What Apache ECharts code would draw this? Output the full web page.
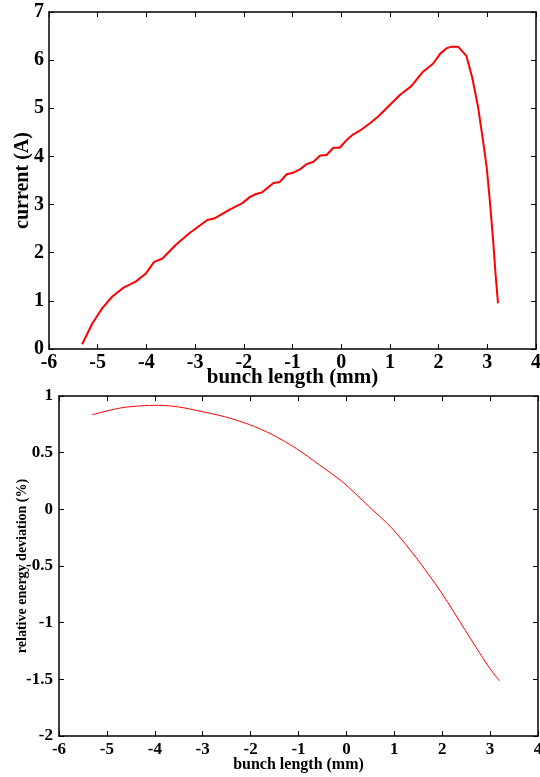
<!DOCTYPE html>
<html>
<head>
<meta charset="utf-8">
<script src="https://cdn.jsdelivr.net/npm/echarts@6/dist/echarts.min.js"></script>
<style>
  html, body { margin: 0; padding: 0; background: #fff; }
  #chart { width: 540px; height: 777px; }
</style>
</head>
<body>
<div id="chart"></div>
<script>
// top panel: current vs bunch length
const bunchTop = [-5.32, -5.11, -4.905, -4.70, -4.46, -4.22, -4.01, -3.84, -3.67, -3.40, -3.125, -2.75, -2.61, -2.30, -2.03, -1.87, -1.75, -1.63, -1.39, -1.26, -1.12, -0.99, -0.85, -0.71, -0.57, -0.43, -0.30, -0.16, -0.03, 0.11, 0.25, 0.39, 0.59, 0.76, 0.93, 1.21, 1.44, 1.68, 1.89, 2.03, 2.17, 2.27, 2.40, 2.57, 2.69, 2.81, 2.92, 2.99, 3.05, 3.12, 3.17, 3.22]
const currentTop = [0.10, 0.53, 0.85, 1.09, 1.28, 1.40, 1.57, 1.81, 1.88, 2.16, 2.40, 2.68, 2.71, 2.89, 3.03, 3.16, 3.22, 3.25, 3.45, 3.47, 3.63, 3.66, 3.73, 3.84, 3.89, 4.02, 4.03, 4.18, 4.18, 4.34, 4.46, 4.54, 4.69, 4.83, 5.00, 5.28, 5.46, 5.76, 5.93, 6.13, 6.25, 6.28, 6.28, 6.09, 5.64, 5.03, 4.27, 3.75, 3.10, 2.25, 1.55, 0.95]

// bottom panel: relative energy deviation vs bunch length
const bunchBottom = [-5.31, -5.0, -4.68, -4.3, -3.92, -3.5, -3.08, -2.55, -2.04, -1.56, -1.04, -0.58, -0.06, 0.46, 0.94, 1.43, 1.985, 2.47, 2.96, 3.20]
const deviationBottom = [0.835, 0.868, 0.897, 0.913, 0.918, 0.903, 0.868, 0.818, 0.75, 0.662, 0.535, 0.397, 0.235, 0.029, -0.162, -0.412, -0.736, -1.059, -1.383, -1.515]

const serif = 'Liberation Serif'

const chart = echarts.init(document.getElementById('chart'))

// axis helpers
const mainAxis = (gridIndex, extra) => Object.assign({
  gridIndex,
  type: 'value',
  splitLine: { show: false },
  nameMoveOverlap: false,
  axisLine: { show: true, onZero: false, lineStyle: { color: '#000', width: 1.5 } },
  axisTick: { show: true, inside: true, length: 5, lineStyle: { color: '#000' } }
}, extra)

const mirrorAxis = (gridIndex, extra) => Object.assign({
  gridIndex,
  type: 'value',
  splitLine: { show: false },
  axisLabel: { show: false },
  axisLine: { show: true, onZero: false, lineStyle: { color: '#000', width: 1.5 } },
  axisTick: { show: true, inside: true, length: 5, lineStyle: { color: '#000' } }
}, extra)

// bold tick labels via rich text
const boldLabel = (size, margin) => ({
  margin,
  formatter: '{b|{value}}',
  rich: { b: { fontFamily: serif, fontWeight: 'bold', fontSize: size, color: '#000' } }
})

const option = {
  animation: false,
  backgroundColor: '#fff',
  grid: [
    { left: 49, top: 12, width: 487, height: 337, containLabel: false, outerBoundsMode: 'none' },
    { left: 59, top: 396, width: 479, height: 340, containLabel: false, outerBoundsMode: 'none' }
  ],
  xAxis: [
    mainAxis(0, {
      min: -6, max: 4, interval: 1, position: 'bottom',
      axisLabel: boldLabel(20, 4),
      name: 'bunch length (mm)', nameLocation: 'middle', nameGap: 18,
      nameTextStyle: { fontFamily: serif, fontWeight: 'bold', fontSize: 21, color: '#000' }
    }),
    mirrorAxis(0, { min: -6, max: 4, interval: 1, position: 'top' }),
    mainAxis(1, {
      min: -6, max: 4, interval: 1, position: 'bottom',
      axisLabel: boldLabel(17, 5),
      name: 'bunch length (mm)', nameLocation: 'middle', nameGap: 21,
      nameTextStyle: { fontFamily: serif, fontWeight: 'bold', fontSize: 16, color: '#000' }
    }),
    mirrorAxis(1, { min: -6, max: 4, interval: 1, position: 'top' })
  ],
  yAxis: [
    mainAxis(0, {
      min: 0, max: 7, interval: 1, position: 'left',
      axisLabel: boldLabel(20, 5),
      name: 'current (A)', nameLocation: 'middle', nameGap: 16,
      nameTextStyle: { fontFamily: serif, fontWeight: 'bold', fontSize: 20, color: '#000' }
    }),
    mirrorAxis(0, { min: 0, max: 7, interval: 1, position: 'right' }),
    mainAxis(1, {
      min: -2, max: 1, interval: 0.5, position: 'left',
      axisLabel: boldLabel(17, 6),
      name: 'relative energy deviation (%)', nameLocation: 'middle', nameGap: 30,
      nameTextStyle: { fontFamily: serif, fontWeight: 'bold', fontSize: 14, color: '#000' }
    }),
    mirrorAxis(1, { min: -2, max: 1, interval: 0.5, position: 'right' })
  ],
  series: [
    {
      type: 'line',
      xAxisIndex: 0,
      yAxisIndex: 0,
      data: bunchTop.map((x, i) => [x, currentTop[i]]),
      showSymbol: false,
      lineStyle: { color: '#ff0000', width: 2 }
    },
    {
      type: 'line',
      xAxisIndex: 2,
      yAxisIndex: 2,
      data: bunchBottom.map((x, i) => [x, deviationBottom[i]]),
      showSymbol: false,
      smooth: 0.3,
      lineStyle: { color: '#ff0000', width: 1 }
    }
  ]
}

chart.setOption(option)
</script>
</body>
</html>
